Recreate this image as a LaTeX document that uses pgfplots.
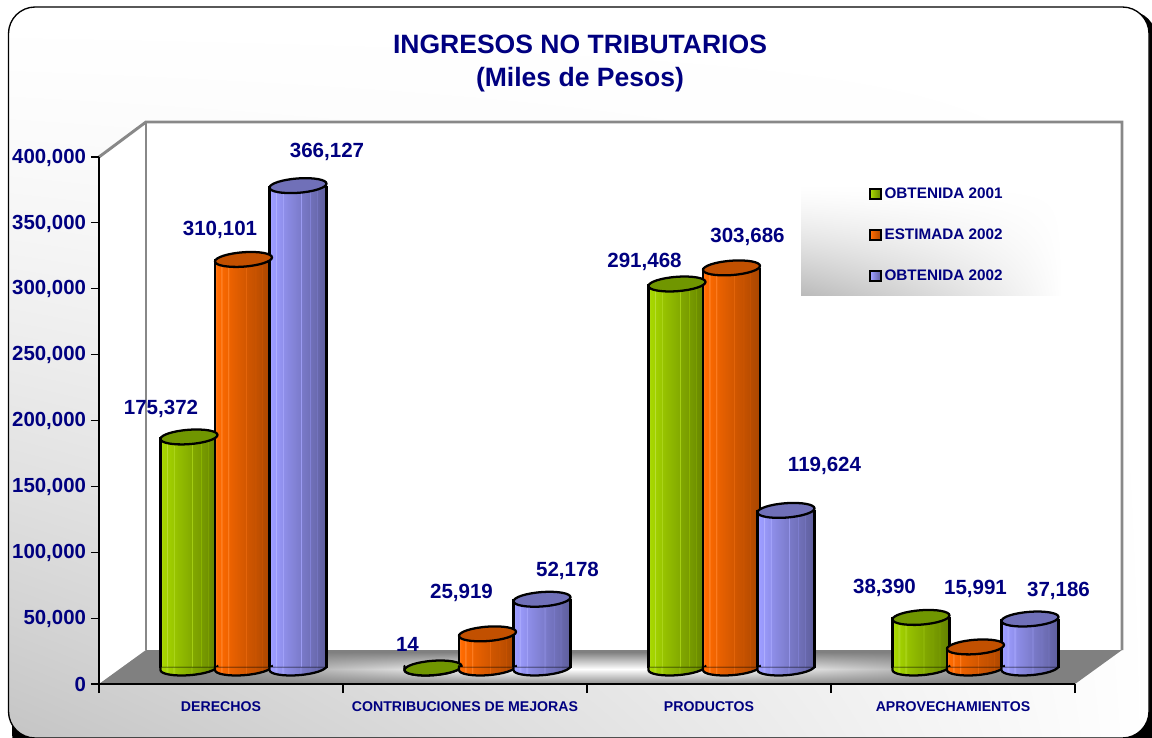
\documentclass[border=0pt]{standalone}
\usepackage{fontspec}
\setmainfont{Liberation Sans}
\usepackage{pgfplots}
\usepackage{pgfplotstable}
\pgfplotsset{compat=1.18}
\definecolor{navy}{RGB}{0,0,128}
\definecolor{wallgray}{RGB}{136,136,136}
\definecolor{gA}{RGB}{166,214,0}
\definecolor{gB}{RGB}{100,130,0}
\definecolor{gT}{RGB}{112,150,0}
\definecolor{oA}{RGB}{255,106,0}
\definecolor{oB}{RGB}{170,70,0}
\definecolor{oT}{RGB}{194,80,0}
\definecolor{bA}{RGB}{156,156,255}
\definecolor{bB}{RGB}{94,94,156}
\definecolor{bT}{RGB}{112,112,184}
\definecolor{gleg}{RGB}{153,204,0}
\definecolor{oleg}{RGB}{255,102,0}
\definecolor{bleg}{RGB}{153,153,255}

% page background, grey towards the lower left (path box is 25..75 of the shading)
\pgfdeclarefunctionalshading{bgshade}{\pgfpointorigin}{\pgfpoint{100bp}{100bp}}{}{
  25 sub 50 div 1 exch sub dup 0 lt {pop 0} if 1.5 exp exch 25 sub 50 div 1 exch sub dup 0 lt {pop 0} if mul 0.23 mul 1 exch sub dup dup
}
% legend box
\pgfdeclarefunctionalshading{legshade}{\pgfpointorigin}{\pgfpoint{100bp}{100bp}}{}{
  25 sub 50 div 1 exch sub dup 0 lt {pop 0} if 1.4 exp exch 25 sub 50 div 1 exch sub dup 0 lt {pop 0} if 0.9 exp mul 0.27 mul 1 exch sub dup dup
}
% floor
\pgfdeclarefunctionalshading{floorshade}{\pgfpointorigin}{\pgfpoint{100bp}{100bp}}{}{
  25 sub 50 div 0.44 sub abs 0.5 div 1 exch sub dup 0 lt {pop 0} if
  exch 25 sub 50 div 0.5 sub abs 0.42 exch sub 0.3 div dup 1 gt {pop 1} if dup 0 lt {pop 0} if
  mul 0.5 mul 0.5 add dup dup
}

\newcommand\barshade[3]{\pgfdeclarehorizontalshading{#1}{100bp}{%
  color(0bp)=(#2!85!white); color(25bp)=(#2!85!white); color(27bp)=(#2); color(30bp)=(#3!4!#2);
  color(30.5bp)=(#2!75!white); color(31.5bp)=(#3!8!#2); color(36bp)=(#3!18!#2);
  color(36.5bp)=(#2!85!white); color(37.5bp)=(#3!22!#2); color(46bp)=(#3!40!#2);
  color(52bp)=(#3!52!#2); color(52.5bp)=(#2!90!white); color(53bp)=(#3!55!#2);
  color(60bp)=(#3!68!#2); color(60.5bp)=(#3!40!#2); color(61bp)=(#3!70!#2);
  color(66bp)=(#3!80!#2); color(66.5bp)=(#3!55!#2); color(67bp)=(#3!84!#2);
  color(75bp)=(#3); color(100bp)=(#3)}}
\barshade{gbar}{gA}{gB}
\barshade{obar}{oA}{oB}
\barshade{bbar}{bA}{bB}

% bottom rim and top face of a cylinder, as tilted ellipses written out in curves
\def\lowerrim{(-21.375pt,-1.5pt)
  .. controls (-21.375pt,-4.48pt) and (-11.8pt,-6.23pt) .. (0pt,-5.4pt)
  .. controls (11.8pt,-4.57pt) and (21.375pt,-1.48pt) .. (21.375pt,1.5pt)}
\def\upperrim{(21.375pt,1.5pt)
  .. controls (21.375pt,4.48pt) and (11.8pt,6.23pt) .. (0pt,5.4pt)
  .. controls (-11.8pt,4.57pt) and (-21.375pt,1.48pt) .. (-21.375pt,-1.5pt)}
\newcommand\cylmarks[3]{%
  \pgfdeclareplotmark{bot#1}{%
    \shade[shading=#2] (-21.375pt,0.6pt)-- \lowerrim --(21.375pt,0.6pt)--cycle;
    \draw[black,line width=1.7pt,line cap=round] (-21.375pt,1.5pt)-- \lowerrim;}%
  \pgfdeclareplotmark{top#1}{%
    \filldraw[fill=#3,draw=black,line width=1.7pt] \lowerrim .. controls (21.375pt,4.48pt) and (11.8pt,6.23pt) .. (0pt,5.4pt)
      .. controls (-11.8pt,4.57pt) and (-21.375pt,1.48pt) .. cycle;}}
\cylmarks{g}{gbar}{gT}
\cylmarks{o}{obar}{oT}
\cylmarks{b}{bbar}{bT}

\pgfplotstableread{
x v
0.5 175372
1.5 14
2.5 291468
3.5 38390
}\obtuno
\pgfplotstableread{
x v
0.5 310101
1.5 25919
2.5 303686
3.5 15991
}\estdos
\pgfplotstableread{
x v
0.5 366127
1.5 52178
2.5 119624
3.5 37186
}\obtdos
\pgfplotstableread{
x v
0.5 0
1.5 0
2.5 0
3.5 0
}\zerorow

\newcommand\lbl[5]{\node[font=\bfseries\fontsize{15.4}{18}\selectfont,text=navy,inner sep=0pt,xshift=#3*0.75pt,yshift=#4*0.75pt] at (axis cs:#1,#2) {#5};}
% each bar is its own plot, so that the shading fills that bar and not all four
\pgfplotsset{cyl/.style n args={2}{ybar,bar width=42.75pt,bar shift=#2*40.875pt,shade,shading=#1bar,draw=none}}
\newcommand\series[4]{%
  \addplot[cyl={#1}{#2},
    legend image code/.code={\draw[fill=#3,draw=black,line width=1.5pt] (-0.75pt,-3.95pt) rectangle (7.15pt,3.95pt);}]
    table[x=x,y=v,skip coords between index={1}{4}] {#4};
  \addplot[forget plot,cyl={#1}{#2}] table[x=x,y=v,skip coords between index={0}{1},skip coords between index={2}{4}] {#4};
  \addplot[forget plot,cyl={#1}{#2}] table[x=x,y=v,skip coords between index={0}{2},skip coords between index={3}{4}] {#4};
  \addplot[forget plot,cyl={#1}{#2}] table[x=x,y=v,skip coords between index={0}{3}] {#4};
  \addplot[forget plot,only marks,mark=bot#1] table[x expr=\thisrow{x}+#2*0.2234,y=v] {\zerorow};
  \addplot[forget plot,ycomb,no marks,black,line width=1.7pt] table[x expr=\thisrow{x}+#2*0.2234-0.1168,y=v] {#4};
  \addplot[forget plot,ycomb,no marks,black,line width=1.7pt] table[x expr=\thisrow{x}+#2*0.2234+0.1168,y=v] {#4};
  \addplot[forget plot,only marks,mark=top#1] table[x expr=\thisrow{x}+#2*0.2234,y=v] {#4};
}

\begin{document}
\begin{tikzpicture}
\path[use as bounding box] (0,0) rectangle (864pt,-553.5pt);
\begin{scope}[x=0.75pt,y=-0.75pt]
  % card with its shadow
  \fill[black,rounded corners=20pt] (12,11) rectangle (1156,760);
  \shade[shading=bgshade,rounded corners=20pt] (8.5,7) rectangle (1149,738);
  \draw[black,line width=1pt,rounded corners=20pt] (8.5,7) rectangle (1149,738);
  % walls
  \fill[white] (99,157)--(146,122)--(1122,122)--(1122,650)--(146,650)--(99,684)--cycle;
  \draw[wallgray,line width=2.2pt] (99,157)--(146,122)--(1122,122)--(1122,650);
  \draw[wallgray,line width=2.2pt] (146,122)--(146,650);
  % floor
  \shade[shading=floorshade] (99,684)--(146,650)--(1122,650)--(1075,684)--cycle;
  % legend box
  \shade[shading=legshade] (801,183) rectangle (1062,295);
\end{scope}

\begin{axis}[
  at={(74.25pt,-513pt)},anchor=south west,
  scale only axis,width=732pt,height=395.25pt,
  xmin=0,xmax=4,ymin=0,ymax=400000,
  axis lines*=left,
  axis line style={black,line width=1.1pt},
  xtick={0.5,1.5,2.5,3.5},
  xticklabels={DERECHOS,CONTRIBUCIONES DE MEJORAS,PRODUCTOS,APROVECHAMIENTOS},
  minor xtick={0,1,2,3,4},
  ytick={0,50000,...,400000},
  tick align=outside,
  major tick length=6pt,minor tick length=6.75pt,
  major x tick style={draw=none},
  minor x tick style={black,line width=0.8pt},
  ytick style={black,line width=0.8pt},
  scaled y ticks=false,
  /pgf/number format/.cd,fixed,1000 sep={,},assume math mode=true,
  /pgfplots/.cd,
  yticklabel style={font=\bfseries\fontsize{15.3}{18}\selectfont,text=navy,xshift=-0.25pt,yshift=-0.5pt},
  xticklabel style={font=\bfseries\fontsize{10.6}{13}\selectfont,text=navy,yshift=-3.75pt},
  title={INGRESOS NO TRIBUTARIOS\\(Miles de Pesos)},
  title style={at={(0.4928,1.1618)},anchor=center,align=center,text=navy,
    font=\bfseries\fontsize{19.9}{24.5}\selectfont},
]
\end{axis}

\begin{axis}[
  at={(91.125pt,-501pt)},anchor=south west,
  scale only axis,width=732pt,height=395.25pt,
  xmin=0,xmax=4,ymin=0,ymax=400000,
  hide axis,clip=false,
  legend style={at={(0.766,0.917)},anchor=north west,draw=none,fill=none,inner sep=0pt,
    font=\bfseries\fontsize{11.45}{14}\selectfont,text=navy,row sep=17.3pt},
  legend cell align=left,
]
\series{g}{-1}{gleg}{\obtuno}
\series{o}{0}{oleg}{\estdos}
\series{b}{1}{bleg}{\obtdos}
\legend{OBTENIDA 2001,ESTIMADA 2002,OBTENIDA 2002}
\lbl{0.2766}{175372}{-28}{28}{175,372}
\lbl{0.5}{310101}{-23.5}{30}{310,101}
\lbl{0.7234}{366127}{29}{34}{366,127}
\lbl{1.2766}{14}{-25.5}{24}{14}
\lbl{1.5}{25919}{-26}{41}{25,919}
\lbl{1.7234}{52178}{25.5}{28}{52,178}
\lbl{2.2766}{291468}{-32.5}{22}{291,468}
\lbl{2.5}{303686}{16}{31}{303,686}
\lbl{2.7234}{119624}{38.5}{44}{119,624}
\lbl{3.2766}{38390}{-36.5}{30}{38,390}
\lbl{3.5}{15991}{0}{58}{15,991}
\lbl{3.7234}{37186}{28.5}{28}{37,186}
\end{axis}
\end{tikzpicture}
\end{document}
